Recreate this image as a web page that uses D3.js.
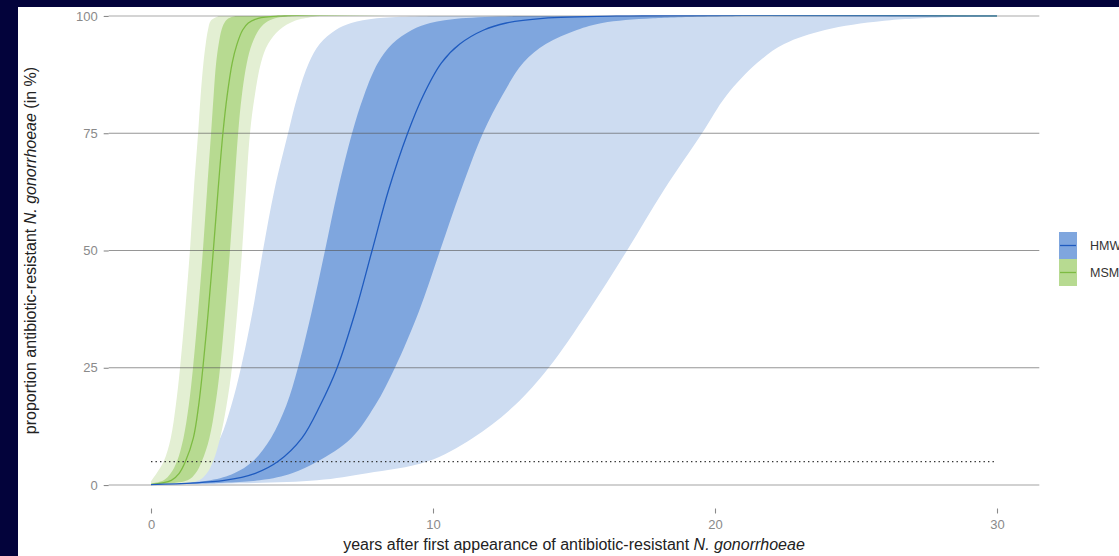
<!DOCTYPE html>
<html>
<head>
<meta charset="utf-8">
<script src="https://cdn.jsdelivr.net/npm/d3@7"></script>
<style>
  html, body { margin: 0; padding: 0; background: #03033b; }
  svg { display: block; }
  text { font-family: "Liberation Sans", Arial, Helvetica, sans-serif; }
</style>
</head>
<body>
<svg id="chart" width="1119" height="556"></svg>
<script>
// ---- data: [years, percent] points along each curve ----
const yearTicks = [0, 10, 20, 30];
const percentTicks = [0, 25, 50, 75, 100];
const groups = ["HMW", "MSM"];
const thresholdPercent = 5;
const thresholdYears = [0, 30];

// HMW: 95 % band (outer), 50 % band (inner) and median
const hmwOuterLeft = [[0,0.5],[0.6,1],[1.3,2.5],[1.9,5],[2.45,10],[2.85,17],[3.19,25],[3.6,37],[3.97,50],[4.38,63],[4.86,75],[5.2,83],[5.6,90],[5.98,94],[6.55,97],[7.1,98.5],[8.0,99.5],[10,100]];
const hmwInnerLeft = [[0,0.1],[2.1,1],[2.95,2.5],[3.6,5],[4.25,10],[4.8,17],[5.21,25],[5.7,37],[6.17,50],[6.63,63],[7.13,75],[7.55,83],[8.05,90],[8.55,94],[9.25,97],[9.9,98.5],[11.0,99.5],[13,100]];
const hmwMedian    = [[0,0.1],[2.6,1],[3.7,2.5],[4.5,5],[5.35,10],[6.0,17],[6.6,25],[7.25,37],[7.84,50],[8.43,63],[9.1,75],[9.65,83],[10.3,90],[10.95,94],[11.8,97],[12.6,98.5],[13.9,99.5],[16.5,100],[30,100]];
const hmwInnerRight = [[0,0.07],[3.85,1],[5.0,2.5],[5.9,5],[7.1,10],[7.95,17],[8.65,25],[9.5,37],[10.25,50],[11.0,63],[11.77,75],[12.45,83],[13.2,90],[14.0,94],[15.1,97],[16.0,98.5],[17.8,99.5],[21,100]];
const hmwOuterRight = [[0,0.1],[2.5,0.3],[5.89,1],[7.66,2.5],[9.79,5],[11.4,10],[12.9,17],[14.1,25],[15.5,37],[16.88,50],[18.2,63],[19.54,75],[20.4,83],[21.5,90],[22.45,94],[23.9,97],[26.0,99],[29.8,100]];

// MSM
const msmOuterLeft = [[0,0.8],[0.2,2.5],[0.45,5],[0.7,10],[0.88,17],[1.03,25],[1.21,37],[1.38,50],[1.52,63],[1.67,75],[1.76,83],[1.86,90],[1.94,94],[2.02,97],[2.12,99],[2.4,100]];
const msmInnerLeft = [[0,0.3],[0.45,1],[0.7,2.5],[0.92,5],[1.15,10],[1.34,17],[1.49,25],[1.67,37],[1.84,50],[1.99,63],[2.13,75],[2.22,83],[2.31,90],[2.4,94],[2.5,97],[2.6,98.5],[2.75,99.5],[3.0,100]];
const msmMedian    = [[0,0.1],[0.72,1],[1.0,2.5],[1.22,5],[1.5,10],[1.69,17],[1.84,25],[2.03,37],[2.21,50],[2.38,63],[2.55,75],[2.7,83],[2.88,90],[3.05,94],[3.25,97],[3.45,98.5],[3.8,99.5],[4.5,100],[30,100]];
const msmInnerRight = [[0,0.05],[1.3,1],[1.58,2.5],[1.8,5],[2.07,10],[2.28,17],[2.45,25],[2.63,37],[2.8,50],[2.95,63],[3.09,75],[3.22,83],[3.4,90],[3.58,94],[3.82,97],[4.05,98.5],[4.4,99.5],[5,100]];
const msmOuterRight = [[0,0.01],[1.0,0.3],[1.7,1],[1.98,2.5],[2.2,5],[2.45,10],[2.68,17],[2.87,25],[3.06,37],[3.23,50],[3.37,63],[3.51,75],[3.68,83],[3.9,90],[4.15,94],[4.55,97],[5.1,99],[6,100]];

// ---- styling ----
const colors = {
  HMW: { outer: "#cddcf1", inner: "#7fa6de", line: "#1f5bbf" },
  MSM: { outer: "#e3efd3", inner: "#b7da91", line: "#7dbb42" }
};

const svg = d3.select("#chart");

// slide frame
svg.append("rect").attr("x", 0).attr("y", 0).attr("width", 1119).attr("height", 556).attr("fill", "#03033b");
svg.append("rect").attr("x", 18).attr("y", 7).attr("width", 1101).attr("height", 549).attr("fill", "#ffffff");

const panel = { left: 108.7, right: 1039.3, top: -7.5, bottom: 508.5 };

const x = d3.scaleLinear().domain([-1.5, 31.5]).range([panel.left, panel.right]);
const y = d3.scaleLinear().domain([-5, 105]).range([panel.bottom, panel.top]);

const line = d3.line()
  .x(d => x(d[0]))
  .y(d => y(d[1]))
  .curve(d3.curveCatmullRom.alpha(0.5));

function bandPath(lo, hi) {
  const a = line(lo);
  const b = line(hi.slice().reverse());
  return a + "L" + b.slice(1) + "Z";
}

// keep splines inside the 0..100 range
const defs = svg.append("defs");
defs.append("clipPath").attr("id", "range-clip").append("rect")
  .attr("x", panel.left).attr("width", panel.right - panel.left)
  .attr("y", y(100) - 0.8).attr("height", y(0) - y(100) + 1.6);

const g = svg.append("g");

// ribbons
const bands = [
  { group: "HMW", lo: hmwOuterLeft, hi: hmwOuterRight, kind: "outer" },
  { group: "HMW", lo: hmwInnerLeft, hi: hmwInnerRight, kind: "inner" },
  { group: "MSM", lo: msmOuterLeft, hi: msmOuterRight, kind: "outer" },
  { group: "MSM", lo: msmInnerLeft, hi: msmInnerRight, kind: "inner" }
];
g.append("g").attr("clip-path", "url(#range-clip)")
  .selectAll("path.band").data(bands).join("path")
  .attr("class", "band")
  .attr("d", d => bandPath(d.lo, d.hi))
  .attr("fill", d => colors[d.group][d.kind]);

// horizontal grid lines, over the ribbons so they show through
g.selectAll("line.grid").data(percentTicks).join("line")
  .attr("class", "grid")
  .attr("x1", panel.left).attr("x2", panel.right)
  .attr("y1", d => y(d)).attr("y2", d => y(d))
  .attr("stroke", d => d === 0 ? "#c2c2c2" : "#555555")
  .attr("stroke-opacity", d => d === 0 ? 1 : (d === 100 ? 0.5 : 0.62))
  .attr("stroke-width", d => d === 0 ? 1.6 : 1.1);

// 5 % threshold
g.append("line")
  .attr("x1", x(thresholdYears[0])).attr("x2", x(thresholdYears[1]))
  .attr("y1", y(thresholdPercent)).attr("y2", y(thresholdPercent))
  .attr("stroke", "#333")
  .attr("stroke-width", 1.4)
  .attr("stroke-dasharray", "1.4,3.1");

// median lines
const lines = g.append("g").attr("clip-path", "url(#range-clip)");
lines.append("path").attr("d", line(msmMedian)).attr("fill", "none")
  .attr("stroke", colors.MSM.line).attr("stroke-width", 1.3);
lines.append("path").attr("d", line(hmwMedian)).attr("fill", "none")
  .attr("stroke", colors.HMW.line).attr("stroke-width", 1.3);

// axes
const xAxis = d3.axisBottom(x).tickValues(yearTicks).tickSize(5).tickPadding(6.5);
const yAxis = d3.axisLeft(y).tickValues(percentTicks).tickSize(5).tickPadding(6);

const gx = svg.append("g").attr("transform", `translate(0,${panel.bottom})`).call(xAxis);
const gy = svg.append("g").attr("transform", `translate(${panel.left},0)`).call(yAxis);
[gx, gy].forEach(a => {
  a.select(".domain").remove();
  a.selectAll(".tick line").attr("stroke", "#8a8a8a").attr("stroke-width", 1.1);
  a.selectAll(".tick text").attr("fill", "#8a8a8a").style("font-size", "13px");
});

// axis titles
const xt = svg.append("text")
  .attr("x", (panel.left + panel.right) / 2).attr("y", 550)
  .attr("text-anchor", "middle").attr("fill", "#222").style("font-size", "16px");
xt.append("tspan").text("years after first appearance of antibiotic-resistant ");
xt.append("tspan").style("font-style", "italic").text("N. gonorrhoeae");

const yt = svg.append("text")
  .attr("transform", `translate(36,${(panel.top + panel.bottom) / 2}) rotate(-90)`)
  .attr("text-anchor", "middle").attr("fill", "#222").style("font-size", "16px");
yt.append("tspan").text("proportion antibiotic-resistant ");
yt.append("tspan").style("font-style", "italic").text("N. gonorrhoeae");
yt.append("tspan").text(" (in %)");

// legend
const legend = svg.append("g").attr("transform", "translate(1059,232)");
const keyW = 18, keyH = 27;
groups.forEach((grp, i) => {
  const row = legend.append("g").attr("transform", `translate(0,${i * keyH})`);
  row.append("rect").attr("width", keyW).attr("height", keyH).attr("fill", colors[grp].inner);
  row.append("line").attr("x1", 1).attr("x2", keyW - 1).attr("y1", keyH / 2).attr("y2", keyH / 2)
    .attr("stroke", colors[grp].line).attr("stroke-width", 1.3);
  row.append("text").attr("x", keyW + 13).attr("y", keyH / 2).attr("dy", "0.35em")
    .attr("fill", "#333").style("font-size", "12.5px").text(grp);
});
</script>
</body>
</html>
